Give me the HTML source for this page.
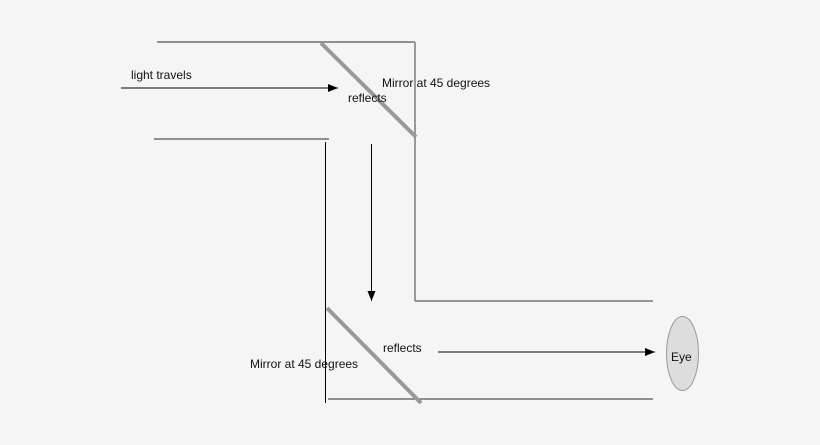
<!DOCTYPE html>
<html><head><style>body{margin:0;background:#f5f5f5}svg{display:block}text{font-family:"Liberation Sans",sans-serif;font-size:12px;fill:#111}</style></head><body>
<svg width="820" height="445" viewBox="0 0 820 445">
<rect width="820" height="445" fill="#f5f5f5"/>
<defs><marker id="a" markerWidth="10" markerHeight="8" refX="10" refY="4" orient="auto" markerUnits="userSpaceOnUse"><path d="M0,0 L10,4 L0,8 Z" fill="#000"/></marker></defs>
<line x1="157" y1="42" x2="415" y2="42" stroke="#555" stroke-width="1.3"/>
<line x1="415" y1="42" x2="415" y2="301" stroke="#999" stroke-width="2"/>
<line x1="415" y1="301" x2="653" y2="301" stroke="#777" stroke-width="1.5"/>
<line x1="154" y1="139" x2="329" y2="139" stroke="#555" stroke-width="1.3"/>
<line x1="325.5" y1="142" x2="325.5" y2="403" stroke="#000" stroke-width="1"/>
<line x1="328" y1="399" x2="653" y2="399" stroke="#555" stroke-width="1.3"/>
<line x1="321" y1="43" x2="416" y2="137" stroke="#999" stroke-width="4"/>
<line x1="327" y1="308" x2="421" y2="403" stroke="#999" stroke-width="4"/>
<line x1="121" y1="88" x2="338" y2="88" stroke="#000" stroke-width="1" marker-end="url(#a)"/>
<line x1="371.5" y1="144" x2="371.5" y2="301" stroke="#000" stroke-width="1" marker-end="url(#a)"/>
<line x1="438" y1="352" x2="655" y2="352" stroke="#000" stroke-width="1" marker-end="url(#a)"/>
<ellipse cx="682.5" cy="353.5" rx="16" ry="37" fill="#ddd" stroke="#999" stroke-width="1"/>
<text x="131" y="79">light travels</text>
<text x="382" y="87">Mirror at 45 degrees</text>
<text x="348" y="102">reflects</text>
<text x="383" y="352">reflects</text>
<text x="250" y="368">Mirror at 45 degrees</text>
<text x="671" y="361">Eye</text>
</svg>
</body></html>
